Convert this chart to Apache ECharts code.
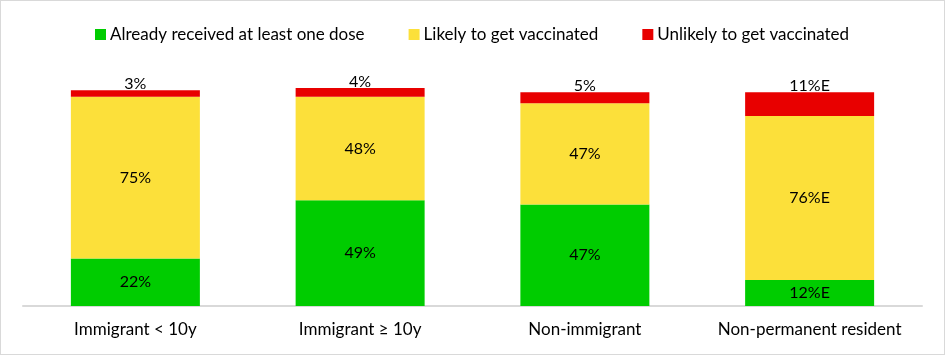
<!DOCTYPE html>
<html>
<head>
<meta charset="utf-8">
<script src="https://cdn.jsdelivr.net/npm/echarts@6/dist/echarts.min.js"></script>
<style>
html,body{margin:0;padding:0;background:#fff;}
#c{width:945px;height:355px;box-sizing:border-box;border:1px solid #d9d9d9;}
</style>
</head>
<body>
<div id="c"></div>
<script>
const categories = ['Immigrant < 10y', 'Immigrant \u2265 10y', 'Non-immigrant', 'Non-permanent resident'];
const seriesNames = ['Already received at least one dose', 'Likely to get vaccinated', 'Unlikely to get vaccinated'];
const received = [22, 49, 47, 12];
const likely = [75, 48, 47, 76];
const unlikely = [3, 4, 5, 11];
const receivedLabels = ['22%', '49%', '47%', '12%E'];
const likelyLabels = ['75%', '48%', '47%', '76%E'];
const unlikelyLabels = ['3%', '4%', '5%', '11%E'];
const colors = ['#00CC00', '#FCE03A', '#E80000'];

const font = 'Lato, "Open Sans", sans-serif';
const chart = echarts.init(document.getElementById('c'), null, {renderer: 'canvas'});

function mk(name, data, labels, color, pos) {
  return {
    name: name,
    type: 'bar',
    stack: 'total',
    barWidth: 129,
    data: data,
    itemStyle: {color: color},
    label: {
      show: true,
      position: pos,
      distance: pos === 'top' ? -2 : 5,
      color: '#000',
      fontFamily: font,
      fontSize: 16,
      formatter: p => labels[p.dataIndex]
    },
    emphasis: {disabled: true},
    animation: false
  };
}

chart.setOption({
  animation: false,
  color: colors,
  legend: {
    top: 20,
    left: 89,
    itemWidth: 11,
    itemHeight: 11,
    itemGap: 44,
    icon: 'rect',
    textStyle: {fontFamily: font, fontSize: 17, color: '#000', padding: [0, 0, 0, -1]},
    data: seriesNames
  },
  grid: {left: 22, right: 22, top: 67.6, bottom: 48, containLabel: false},
  xAxis: {
    type: 'category',
    data: categories,
    axisLine: {lineStyle: {color: '#d9d9d9', width: 2}},
    axisTick: {show: false},
    axisLabel: {color: '#000', fontFamily: font, fontSize: 17, margin: 15, interval: 0}
  },
  yAxis: {
    type: 'value',
    min: 0,
    max: 110,
    show: false,
    splitLine: {show: false}
  },
  series: [
    mk(seriesNames[0], received, receivedLabels, colors[0], 'inside'),
    mk(seriesNames[1], likely, likelyLabels, colors[1], 'inside'),
    mk(seriesNames[2], unlikely, unlikelyLabels, colors[2], 'top')
  ]
});
</script>
</body>
</html>
